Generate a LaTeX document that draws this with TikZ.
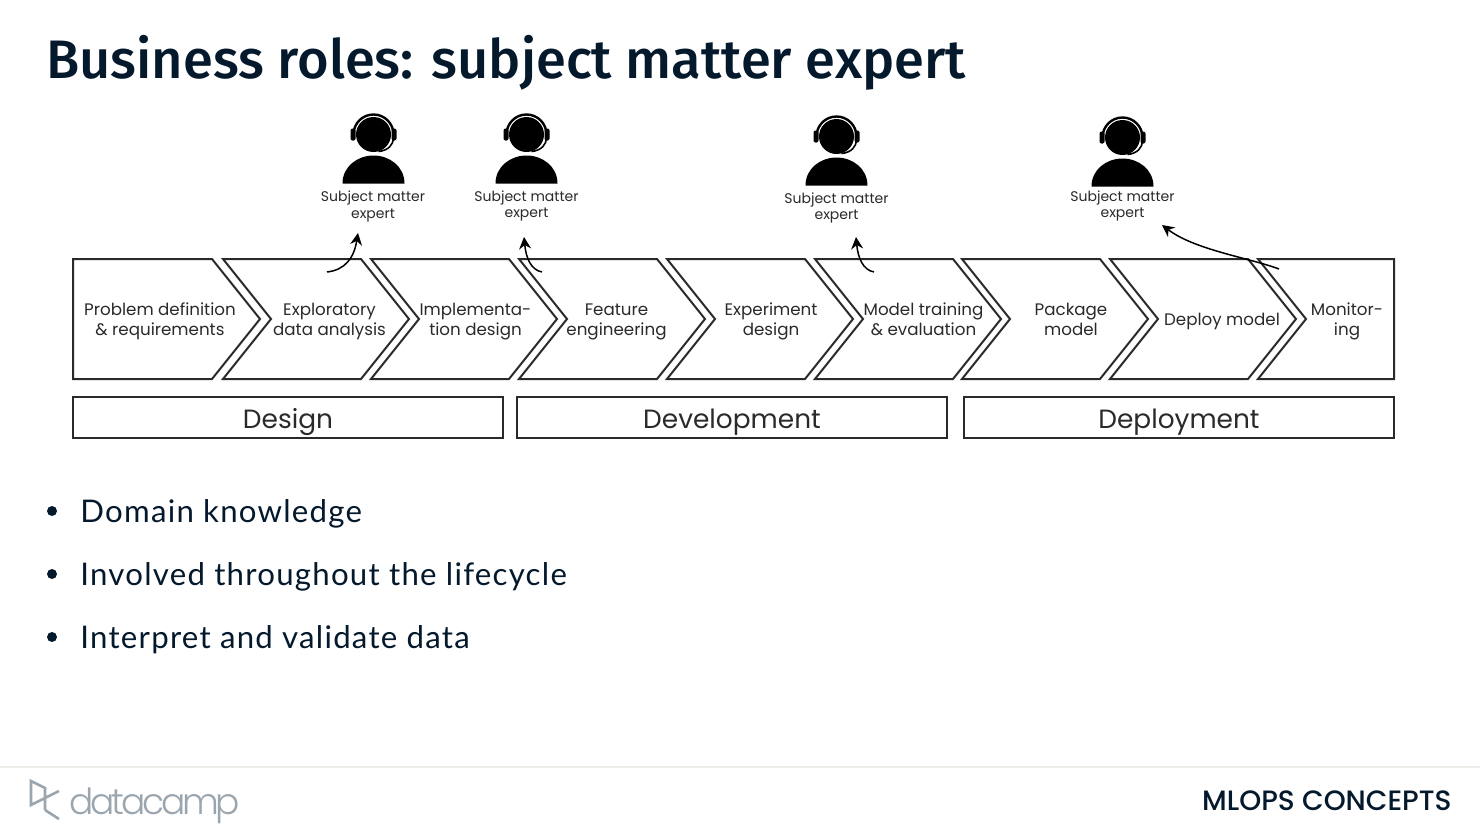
\documentclass[tikz,border=0pt]{standalone}
\usepackage{fontspec}
\setmainfont{Poppins}
\newfontfamily\titlefont{Fira Sans}[UprightFont={* Medium}]
\newfontfamily\bodyfont{Lato}[LetterSpace=4]
\newfontfamily\logofont{Poppins}[UprightFont={* Light},LetterSpace=-9]
\newfontfamily\coursefont{Poppins}[UprightFont={* Medium}]
\definecolor{navy}{HTML}{05192D}
\definecolor{logogray}{HTML}{9BA5AD}
\definecolor{rulecol}{HTML}{EFEDE9}
\definecolor{inktext}{HTML}{2A2A2A}
\usetikzlibrary{arrows.meta}
\tikzset{
  x=0.5pt,y=-0.5pt,
  chev/.style={draw=inktext,line width=1pt,line join=miter,fill=white},
  chevtext/.style={align=center,font=\fontsize{8.35}{10}\selectfont,text=inktext,inner sep=0pt},
  smetext/.style={align=center,font=\fontsize{7}{8.3}\selectfont,text=inktext,inner sep=0pt},
  phase/.style={draw=inktext,line width=1pt,minimum height=20.5pt,inner sep=0pt,text=inktext},
  phasetext/.style={anchor=base,inner sep=0pt,font=\fontsize{13.2}{16}\selectfont,text=inktext},
  conn/.style={draw=black,line width=0.75pt,-{Stealth[length=6pt,width=6pt]}},
  bullettext/.style={anchor=base west,inner sep=0pt,font=\bodyfont\fontsize{15.6}{19}\selectfont,text=navy},
  bulletdot/.style={circle,fill=navy,minimum size=5pt,inner sep=0pt},
  pics/person/.style={code={
    \fill[black] (-31,49) .. controls (-31,32) and (-16,21) .. (0,21) .. controls (16,21) and (31,32) .. (31,49) -- cycle;
    \draw[black,line width=1.2pt] (-20,0) arc[start angle=180,end angle=360,radius=20];
    \draw[black,line width=0.8pt] (20,3) .. controls (20,10) and (15,16) .. (5,17);
    \fill[black] (0,0) circle[radius=17.5];
    \fill[black,rounded corners=1pt] (-23,-6) rectangle (-18,6);
    \fill[black,rounded corners=1pt] (18,-6) rectangle (23,6);
  }}
}
\newcommand{\chevpath}[1]{%
  \draw[chev] (#1,259) -- ++(138,0) -- ++(48,60) -- ++(-48,60) -- ++(-138,0) -- ++(48,-60) -- cycle;}
\begin{document}
\begin{tikzpicture}
\useasboundingbox (0,0) rectangle (1480,831);
\fill[white] (0,0) rectangle (1480,831);
\node[anchor=base west,inner sep=0pt,text=navy,font=\titlefont\fontsize{27.1}{32}\selectfont] (title) at (46,78) {Business roles: subject matter expert};

% chevrons
\draw[chev] (73,259) -- (212,259) -- (260,319) -- (212,379) -- (73,379) -- cycle;
\chevpath{223}
\chevpath{371}
\chevpath{519}
\chevpath{667}
\chevpath{815}
\chevpath{962}
\chevpath{1110}
\draw[chev] (1258,259) -- (1394,259) -- (1394,379) -- (1258,379) -- (1306,319) -- cycle;

\node[chevtext] (s1) at (160,321) {Problem definition\\\& requirements};
\node[chevtext] (s2) at (329.5,321) {Exploratory\\data analysis};
\node[chevtext] (s3) at (475.5,322) {Implementa-\\tion design};
\node[chevtext] (s4) at (616.5,322) {Feature\\engineering};
\node[chevtext] (s5) at (771,321) {Experiment\\design};
\node[chevtext] (s6) at (923.5,319.5) {Model training\\\& evaluation};
\node[chevtext] (s7) at (1071,319.5) {Package\\model};
\node[chevtext] (s8) at (1222,321) {Deploy model};
\node[chevtext] (s9) at (1347,321) {Monitor-\\ing};

% phases
\node[phase,minimum width=215pt] (p1) at (288,417.5) {};
\node[phase,minimum width=215pt] (p2) at (732,417.5) {};
\node[phase,minimum width=215pt] (p3) at (1179,417.5) {};
\node[phasetext] (p1t) at (288,428) {Design};
\node[phasetext] (p2t) at (732,428) {Development};
\node[phasetext] (p3t) at (1179,428) {Deployment};

% persons
\pic at (373.5,134.5) {person};
\pic at (526.5,134.5) {person};
\pic at (836.5,136.5) {person};
\pic at (1122.5,137.5) {person};
\node[smetext] (e1) at (373,206.5) {Subject matter\\expert};
\node[smetext] (e2) at (526.5,206) {Subject matter\\expert};
\node[smetext] (e3) at (836.5,208) {Subject matter\\expert};
\node[smetext] (e4) at (1122.5,206) {Subject matter\\expert};

% connectors
\coordinate (a1s) at (327,272); \coordinate (a1e) at (358,233);
\coordinate (a2s) at (542,272); \coordinate (a2e) at (524,237);
\coordinate (a3s) at (874,272); \coordinate (a3e) at (856,237);
\coordinate (a4s) at (1279,269); \coordinate (a4e) at (1162,225);
\draw[conn] (a1s) .. controls (345,270) and (354,258) .. (a1e);
\draw[conn] (a2s) .. controls (531,270) and (526,258) .. (a2e);
\draw[conn] (a3s) .. controls (863,270) and (858,258) .. (a3e);
\draw[conn] (a4s) .. controls (1250,258) and (1195,250) .. (a4e);

% bullets
\node[bulletdot] (b1) at (52,511) {};
\node[bulletdot] (b2) at (52,574) {};
\node[bulletdot] (b3) at (52,637) {};
\node[bullettext] (t1) at (80,522) {Domain knowledge};
\node[bullettext] (t2) at (80,585) {Involved throughout the lifecycle};
\node[bullettext] (t3) at (80,648) {Interpret and validate data};

% footer
\draw[rulecol,line width=1pt] (0,767) -- (1480,767);
\draw[logogray,line width=1.3pt,line join=miter] (45,810) -- (45,788) -- (31,781) -- (31,805) -- (59,791);
\draw[logogray,line width=1.3pt] (45,810) -- (59,819);
\node[anchor=base west,inner sep=0pt,text=logogray,font=\logofont\fontsize{18}{22}\selectfont] (logo) at (69,814) {datacamp};
\node[anchor=base east,inner sep=0pt,text=navy,font=\coursefont\fontsize{14}{16}\selectfont] (course) at (1452,810) {MLOPS CONCEPTS};
\end{tikzpicture}
\end{document}
